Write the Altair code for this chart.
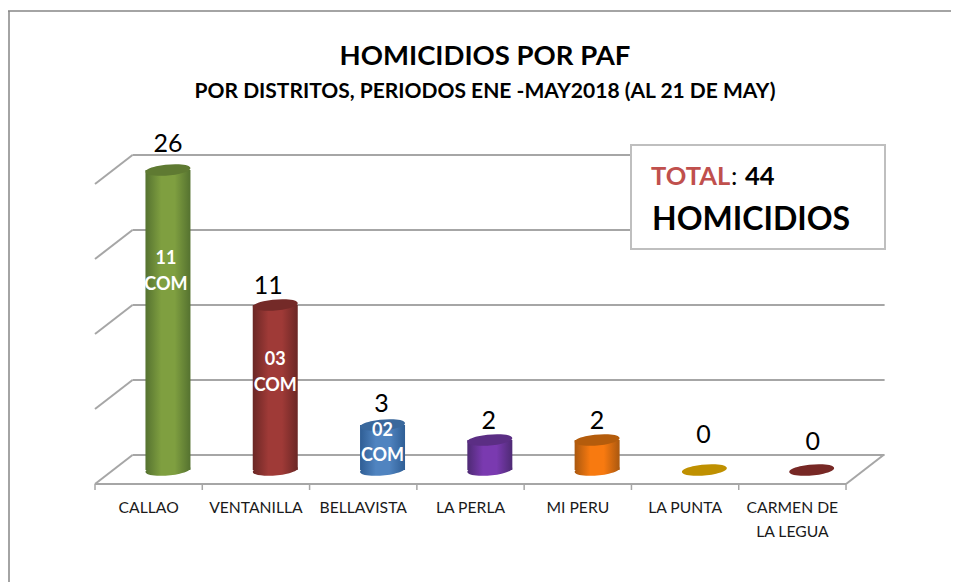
import altair as alt
import pandas as pd

# ---- chart values ----
categories = ["CALLAO", "VENTANILLA", "BELLAVISTA", "LA PERLA", "MI PERU", "LA PUNTA", "CARMEN DE"]
second_line = ["", "", "", "", "", "", "LA LEGUA"]
values = [26, 11, 3, 2, 2, 0, 0]
inner_labels = ["11", "03", "02", "", "", "", ""]
grid_values = [0, 5, 10, 15, 20]
axis_max = 20  # value axis stops here: the 26 bar is cut off by it

# ---- styles ----
edge = ["#557230", "#6b2725", "#2f5e95", "#4e2a74", "#aa580f", "#bf9000", "#772825"]
mid = ["#7f9f40", "#9f3a37", "#5084c0", "#7a3ab0", "#f87a10", "#bf9000", "#772825"]
cap = ["#5f7a32", "#742a28", "#3a689c", "#5b2e84", "#b45c0c", "#bf9000", "#772825"]
label_dy = [-26, -19, -21, -19, -19, -35, -28]   # px from cylinder top to its number
label_dx = [0, -7, -1, -1, 0, -1, 1]
inner_px = [(259, 285), (360, 386), (431, 456)]

W, H = 943, 574
UX, UY = 107.29, 15.0   # px per category / per homicide
X0, Y0 = 95 - 8, 484 - 8
DX, DY = 37.5 / UX, 29 / UY        # depth of the floor
MX, MY = 0.18, 14 / UY             # cylinder sits half way into the depth
HALF = 22.5 / UX

xs = alt.Scale(domain=[-X0 / UX, (W - X0) / UX], range=[0, W], zero=False, nice=False)
ys = alt.Scale(domain=[(Y0 - H) / UY, Y0 / UY], range=[H, 0], zero=False, nice=False)
X = lambda f: alt.X(f, type="quantitative", scale=xs, axis=None)
Y = lambda f: alt.Y(f, type="quantitative", scale=ys, axis=None)
FONT = "Lato"
GRID = "#a6a6a6"

layers = []

# frame: top and left edge of the surrounding box
layers.append(alt.Chart(pd.DataFrame({"a": [0]})).mark_rule(color="#868686", strokeWidth=1.5).encode(
    x=alt.value(0), x2=alt.value(W), y=alt.value(3)))
layers.append(alt.Chart(pd.DataFrame({"a": [0]})).mark_rule(color="#868686", strokeWidth=1.5).encode(
    x=alt.value(1), y=alt.value(3), y2=alt.value(H)))

# walls and floor
rows = []
for g in grid_values:
    rows += [{"id": f"s{g}", "x": 0, "y": g}, {"id": f"s{g}", "x": DX, "y": g + DY},
             {"id": f"b{g}", "x": DX, "y": g + DY}, {"id": f"b{g}", "x": 7 + DX + 0.01, "y": g + DY}]
rows += [{"id": "front", "x": 0, "y": 0}, {"id": "front", "x": 7, "y": 0},
         {"id": "right", "x": 7, "y": 0}, {"id": "right", "x": 7 + DX, "y": DY}]
layers.append(alt.Chart(pd.DataFrame(rows)).mark_line(color=GRID, strokeWidth=2).encode(
    x=X("x"), y=Y("y"), detail="id:N"))

ticks = pd.DataFrame({"x": list(range(8)), "y": [0] * 8, "y2": [-6 / UY] * 8})
layers.append(alt.Chart(ticks).mark_rule(color=GRID, strokeWidth=1.5).encode(
    x=X("x"), y=Y("y"), y2="y2"))

# cylinders
ELLIPSE = "M-0.996,0.087 A1,0.24 -5 1,1 0.996,-0.087 A1,0.24 -5 1,1 -0.996,0.087 Z"
for i, v in enumerate(values):
    top = min(v, axis_max)
    d = pd.DataFrame({"cx": [i + 0.5 + MX], "x1": [i + 0.5 + MX - HALF], "x2": [i + 0.5 + MX + HALF],
                      "base": [MY], "top": [top + MY]})
    grad = alt.LinearGradient(gradient="linear", x1=0, x2=1, y1=0, y2=0, stops=[
        alt.GradientStop(offset=0, color=edge[i]), alt.GradientStop(offset=0.35, color=mid[i]),
        alt.GradientStop(offset=0.65, color=mid[i]), alt.GradientStop(offset=1, color=edge[i])])
    if v > 0:
        layers.append(alt.Chart(d).mark_point(shape=ELLIPSE, size=2025, filled=True, fill=grad,
                                              opacity=1).encode(x=X("cx"), y=Y("base")))
        layers.append(alt.Chart(d).mark_rect(fill=grad).encode(x=X("x1"), x2="x2", y=Y("top"), y2="base"))
    layers.append(alt.Chart(d).mark_point(shape=ELLIPSE, size=2025, filled=True, fill=cap[i],
                                          opacity=1).encode(x=X("cx"), y=Y("top")))

# numbers above the cylinders
nums = pd.DataFrame({
    "x": [i + 0.5 + MX + label_dx[i] / UX for i in range(7)],
    "y": [min(v, axis_max) + MY - label_dy[i] / UY for i, v in enumerate(values)],
    "t": [str(v) for v in values]})
layers.append(alt.Chart(nums).mark_text(font=FONT, fontSize=25, color="#000000", baseline="middle").encode(
    x=X("x"), y=Y("y"), text="t:N"))

# white labels inside the cylinders
for i, (y1, y2) in enumerate(inner_px):
    d = pd.DataFrame({"x": [i + 0.5 + MX - (2 if i == 0 else 0) / UX], "t": [inner_labels[i]], "c": ["COM"]})
    base = alt.Chart(d).mark_text(font=FONT, fontSize=18, fontWeight="bold", color="#ffffff", baseline="middle")
    layers.append(base.encode(x=X("x"), y=alt.value(y1 - 8), text="t:N"))
    layers.append(base.encode(x=X("x"), y=alt.value(y2 - 8), text="c:N"))

# category labels
cats = pd.DataFrame({"x": [i + 0.5 for i in range(7)], "t": categories, "t2": second_line})
layers.append(alt.Chart(cats).mark_text(font=FONT, fontSize=15.7, color="#1a1a1a", baseline="middle").encode(
    x=X("x"), y=alt.value(508 - 8), text="t:N"))
layers.append(alt.Chart(cats).mark_text(font=FONT, fontSize=15.7, color="#1a1a1a", baseline="middle").encode(
    x=X("x"), y=alt.value(532 - 8), text="t2:N"))


def label(text, px, py, size, color="#000000", weight="bold", align="left"):
    return alt.Chart(pd.DataFrame({"t": [text]})).mark_text(
        font=FONT, fontSize=size, fontWeight=weight, color=color, baseline="middle", align=align
    ).encode(x=alt.value(px - 8), y=alt.value(py - 8), text="t:N")


# titles
layers.append(label("HOMICIDIOS POR PAF", 485, 57, 27.5, align="center"))
layers.append(label("POR DISTRITOS, PERIODOS ENE -MAY2018 (AL 21 DE MAY)", 485, 92, 21, align="center"))

# total box
layers.append(alt.Chart(pd.DataFrame({"a": [0]})).mark_rect(fill="#ffffff", stroke="#bfbfbf", strokeWidth=2).encode(
    x=alt.value(631 - 8), x2=alt.value(885 - 8), y=alt.value(145 - 8), y2=alt.value(249 - 8)))
layers.append(label("TOTAL", 651, 177, 25.5, color="#c0504d"))
layers.append(label(":", 731, 177, 25.5, weight="normal"))
layers.append(label("44", 745, 177, 25.5))
layers.append(label("HOMICIDIOS", 652, 220, 32))

chart = alt.layer(*layers).properties(
    width=W, height=H, padding=0, autosize=alt.AutoSizeParams(type="none"), background="#ffffff"
).configure_view(stroke=None)

chart.save("out.html", embed_options={"renderer": "svg", "actions": False})
